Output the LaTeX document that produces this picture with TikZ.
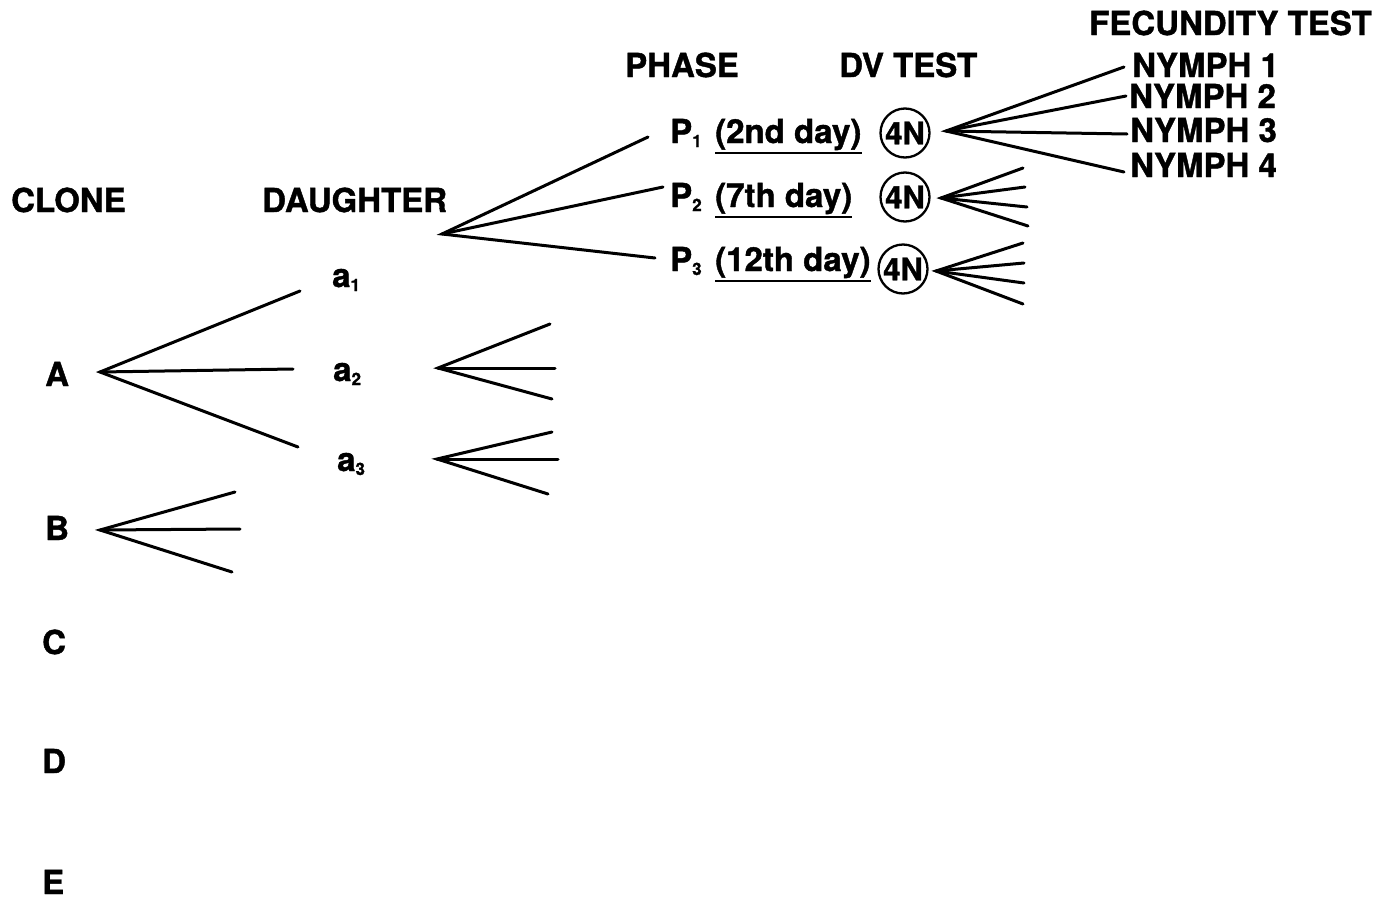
\documentclass[tikz,border=0pt]{standalone}
\usepackage{fontspec}
\setmainfont{TeX Gyre Heros}[BoldFeatures={FakeBold=1.2}]
\newcommand{\sbs}[1]{\raisebox{-4pt}{\fontsize{17}{17}\selectfont #1}}
\begin{document}
\begin{tikzpicture}[x=1pt,y=-1pt,
  lbl/.style={inner sep=0pt,anchor=base west,font=\fontsize{33}{36}\selectfont\bfseries},
  br/.style={line width=3pt,line cap=round},
  ul/.style={line width=2.4pt},
  ring/.style={circle,draw,line width=2.3pt,inner sep=0pt,minimum size=49pt,font=\fontsize{31}{36}\selectfont\bfseries}]
\useasboundingbox (0,0) rectangle (1377,900);
% headings
\node[lbl] (hclone) at (11,212) {CLONE};
\node[lbl] (hdaughter) at (262,212) {DAUGHTER};
\node[lbl] (hphase) at (625,77) {PHASE};
\node[lbl] (hdv) at (839,77) {DV TEST};
\node[lbl] (hfec) at (1089,35) {FECUNDITY TEST};
% clones
\node[lbl] (A) at (45,386) {A};
\node[lbl] (B) at (45,540) {B};
\node[lbl] (C) at (42,654) {C};
\node[lbl] (D) at (42,773) {D};
\node[lbl] (E) at (42,894) {E};
% daughters
\node[lbl] (a1) at (332,287) {a\sbs{1}};
\node[lbl] (a2) at (333,381) {a\sbs{2}};
\node[lbl] (a3) at (337,471) {a\sbs{3}};
% phases
\node[lbl] (p1) at (670,143) {P\sbs{1}};
\node[lbl] (d1) at (715,143) {(2nd day)};
\node[lbl] (p2) at (670,207) {P\sbs{2}};
\node[lbl] (d2) at (715,207) {(7th day)};
\node[lbl] (p3) at (670,271) {P\sbs{3}};
\node[lbl] (d3) at (715,271) {(12th day)};
\draw[ul] ([yshift=-10pt]d1.base west) -- ([yshift=-10pt]d1.base east);
\draw[ul] ([yshift=-10pt]d2.base west) -- ([yshift=-10pt]d2.base east);
\draw[ul] ([yshift=-10pt]d3.base west) -- ([yshift=-10pt]d3.base east);
% DV test circles
\node[ring] (c1) at (905,133) {4N};
\node[ring] (c2) at (905,197) {4N};
\node[ring] (c3) at (903,269) {4N};
% nymphs
\node[lbl] (n1) at (1132,77) {NYMPH 1};
\node[lbl] (n2) at (1129,108) {NYMPH 2};
\node[lbl] (n3) at (1130,142) {NYMPH 3};
\node[lbl] (n4) at (1130,177) {NYMPH 4};
% fan roots
\coordinate (fA) at (100,372);
\coordinate (fB) at (100,530);
\coordinate (fa2) at (438,368);
\coordinate (fa3) at (437,459);
\coordinate (fd) at (442,234);
\coordinate (f1) at (946,131);
\coordinate (f2) at (941,198);
\coordinate (f3) at (936,271);
% fan ends
\coordinate (eA1) at (300,291); \coordinate (eA2) at (293,369); \coordinate (eA3) at (298,447);
\coordinate (eB1) at (235,492); \coordinate (eB2) at (240,529); \coordinate (eB3) at (232,572);
\coordinate (ea21) at (550,324); \coordinate (ea22) at (555,368); \coordinate (ea23) at (552,399);
\coordinate (ea31) at (552,432); \coordinate (ea32) at (558,459); \coordinate (ea33) at (548,494);
\coordinate (ed1) at (648,137); \coordinate (ed2) at (663,187); \coordinate (ed3) at (655,258);
\coordinate (e21) at (1023,168); \coordinate (e22) at (1025,187); \coordinate (e23) at (1027,207); \coordinate (e24) at (1028,226);
\coordinate (e31) at (1023,243); \coordinate (e32) at (1024,263); \coordinate (e33) at (1024,283); \coordinate (e34) at (1023,304);
% fans
\draw[br] (eA1) -- (fA) -- (eA3); \draw[br] (fA) -- (eA2);
\draw[br] (eB1) -- (fB) -- (eB3); \draw[br] (fB) -- (eB2);
\draw[br] (ea21) -- (fa2) -- (ea23); \draw[br] (fa2) -- (ea22);
\draw[br] (ea31) -- (fa3) -- (ea33); \draw[br] (fa3) -- (ea32);
\draw[br] (ed1) -- (fd) -- (ed3); \draw[br] (fd) -- (ed2);
\draw[br] ([xshift=-8pt]n1.west |- 0,67) -- (f1) -- ([xshift=-6pt]n4.west |- 0,172);
\draw[br] (f1) -- ([xshift=-3pt]n2.west |- 0,96);
\draw[br] (f1) -- ([xshift=-3pt]n3.west |- 0,134);
\draw[br] (e21) -- (f2) -- (e24); \draw[br] (f2) -- (e22); \draw[br] (f2) -- (e23);
\draw[br] (e31) -- (f3) -- (e34); \draw[br] (f3) -- (e32); \draw[br] (f3) -- (e33);
\end{tikzpicture}
\end{document}
